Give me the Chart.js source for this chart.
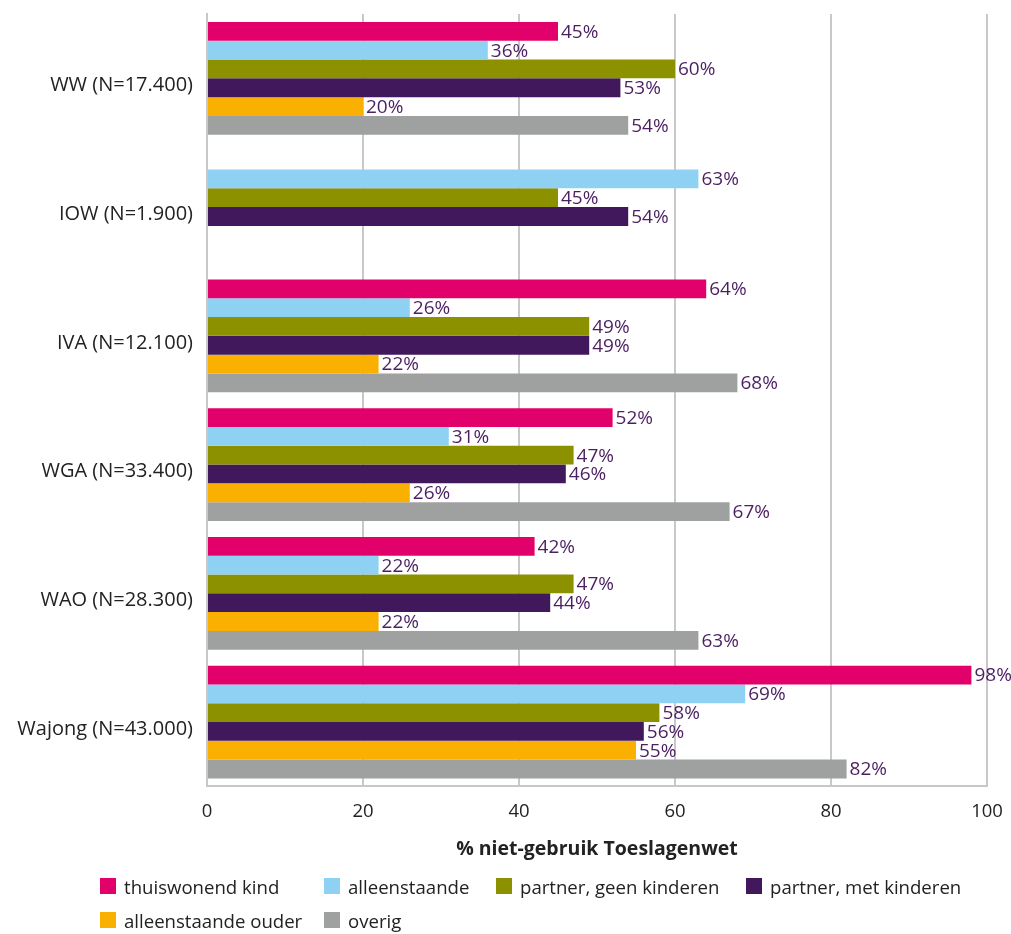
<!DOCTYPE html>
<html>
<head>
<meta charset="utf-8">
<script src="https://cdn.jsdelivr.net/npm/chart.js@4/dist/chart.umd.min.js"></script>
<style>
  body { margin: 0; background: #fff; }
  #wrap { position: relative; width: 1011px; height: 934px; overflow: hidden; }
  #legend {
    position: absolute; left: 100px; top: 875px;
    display: grid; grid-template-columns: 224px 172px 250px auto;
    row-gap: 12px;
    font-family: 'Open Sans', sans-serif; font-size: 18.6px; color: #222;
  }
  #legend div { display: flex; align-items: center; height: 22px; white-space: nowrap; }
  #legend span.box { display: inline-block; width: 16px; height: 16px; margin-right: 8px; }
</style>
</head>
<body>
<div id="wrap">
  <canvas id="chart" width="1011" height="934"></canvas>
  <div id="legend"></div>
</div>
<script>
const categories = ['WW (N=17.400)', 'IOW (N=1.900)', 'IVA (N=12.100)', 'WGA (N=33.400)', 'WAO (N=28.300)', 'Wajong (N=43.000)'];
const seriesNames = ['thuiswonend kind', 'alleenstaande', 'partner, geen kinderen', 'partner, met kinderen', 'alleenstaande ouder', 'overig'];
const thuiswonendKind = [45, null, 64, 52, 42, 98];
const alleenstaande = [36, 63, 26, 31, 22, 69];
const partnerGeenKinderen = [60, 45, 49, 47, 47, 58];
const partnerMetKinderen = [53, 54, 49, 46, 44, 56];
const alleenstaandeOuder = [20, null, 22, 26, 22, 55];
const overig = [54, null, 68, 67, 63, 82];
const xTicks = [0, 20, 40, 60, 80, 100];

const colors = ['#e2006a', '#8fd1f3', '#8c9100', '#42185c', '#f9b000', '#9fa0a0'];
const values = [thuiswonendKind, alleenstaande, partnerGeenKinderen, partnerMetKinderen, alleenstaandeOuder, overig];
const font = "'Open Sans', sans-serif";

const barLabels = {
  id: 'barLabels',
  afterDatasetsDraw(chart) {
    const ctx = chart.ctx;
    ctx.save();
    ctx.font = `19px ${font}`;
    ctx.fillStyle = '#4b1f62';
    ctx.textBaseline = 'middle';
    ctx.textAlign = 'left';
    chart.data.datasets.forEach((ds, i) => {
      chart.getDatasetMeta(i).data.forEach((bar, j) => {
        const v = ds.data[j];
        if (v == null) return;
        ctx.fillText(v + '%', bar.x + 3, bar.y + 1);
      });
    });
    ctx.restore();
  }
};

new Chart(document.getElementById('chart'), {
  type: 'bar',
  data: {
    labels: categories,
    datasets: seriesNames.map((name, i) => ({
      label: name,
      data: values[i],
      backgroundColor: colors[i],
      categoryPercentage: 0.876,
      barPercentage: 1
    }))
  },
  options: {
    indexAxis: 'y',
    responsive: false,
    animation: false,
    layout: { padding: { top: 14, right: 24, bottom: 73, left: 0 } },
    plugins: {
      legend: { display: false },
      tooltip: { enabled: false }
    },
    scales: {
      x: {
        min: 0, max: 100,
        afterBuildTicks(scale) { scale.ticks = xTicks.map(v => ({ value: v })); },
        afterFit(scale) { scale.paddingLeft = 0; scale.paddingRight = 0; },
        grid: { color: '#c8c8c8', lineWidth: 2, drawTicks: false },
        border: { color: '#c8c8c8', width: 2 },
        ticks: { padding: 14, color: '#222', font: { family: font, size: 18.5 } },
        title: {
          display: true, text: '% niet-gebruik Toeslagenwet', color: '#222',
          font: { family: font, size: 19.5, weight: 'bold' }, padding: { top: 1, bottom: 0 }
        }
      },
      y: {
        afterFit(scale) { scale.width = 207; scale.paddingTop = 0; scale.paddingBottom = 0; },
        grid: { display: false, drawTicks: false },
        border: { color: '#c8c8c8', width: 2 },
        ticks: { padding: 14, labelOffset: 7, color: '#222', font: { family: font, size: 20 } }
      }
    }
  },
  plugins: [barLabels]
});

const legend = document.getElementById('legend');
seriesNames.forEach((name, i) => {
  const item = document.createElement('div');
  item.innerHTML = `<span class="box" style="background:${colors[i]}"></span>${name}`;
  legend.appendChild(item);
});
</script>
</body>
</html>
